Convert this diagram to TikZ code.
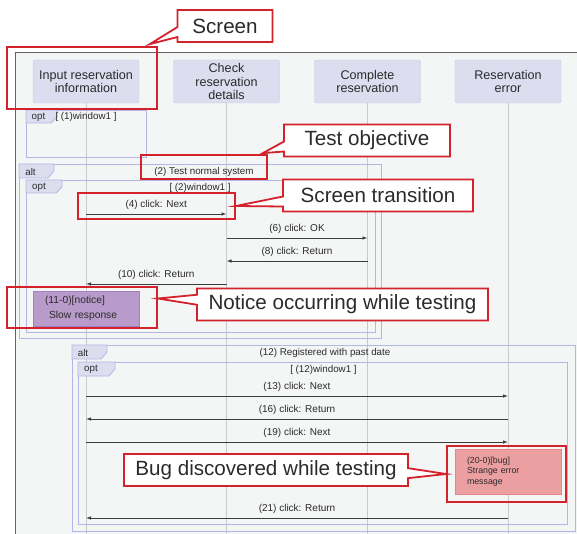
\documentclass[tikz,border=0pt]{standalone}
\usepackage{fontspec}
\setmainfont{Liberation Sans}
\usepackage{xcolor}
\usetikzlibrary{positioning, arrows.meta, fit, shapes.callouts}

\definecolor{bgfill}{HTML}{F4F5F5}
\definecolor{bordergray}{HTML}{626262}
\definecolor{headfill}{HTML}{DCDEF0}
\definecolor{headline}{HTML}{C6C9E8}
\definecolor{lifegray}{HTML}{C9CACF}
\definecolor{fragline}{HTML}{B3B7E3}
\definecolor{msggray}{HTML}{3C3C3C}
\definecolor{noticefill}{HTML}{B89BCB}
\definecolor{noticeline}{HTML}{9E82BD}
\definecolor{bugfill}{HTML}{EC9FA1}
\definecolor{bugline}{HTML}{E3868B}
\definecolor{callred}{HTML}{D3222C}
\definecolor{ink}{HTML}{2B2B2B}

\begin{document}
\begin{tikzpicture}[
  x=1pt, y=-1pt,
  font=\fontsize{10}{11}\selectfont, text=ink,
  headbox/.style={draw=headline, fill=headfill, rounded corners=2pt,
                  minimum width=106pt, minimum height=43pt, inner sep=0pt,
                  align=center, font=\fontsize{12.6}{13.6}\selectfont},
  lifeline/.style={draw=lifegray, line width=0.9pt},
  fragbox/.style={draw=fragline, line width=0.8pt},
  tab/.style={draw=fragline, fill=headfill, line width=0.8pt},
  tag/.style={font=\fontsize{9.8}{11}\selectfont, inner sep=0pt},
  msg/.style={draw=msggray, line width=0.8pt, -{Latex[length=5pt,width=3.5pt]}},
  lbl/.style={midway, above=3pt, inner sep=1pt},
  redmark/.style={draw=callred, line width=1.8pt, inner sep=0pt},
  remark/.style={rectangle callout, draw=callred, line width=1.8pt, fill=white,
                 font=\fontsize{20.6}{22}\selectfont, minimum height=32pt,
                 inner xsep=10pt, callout pointer width=10pt}
]
\useasboundingbox (0,0) rectangle (577,534);

% diagram area
\fill[bgfill] (15,53) rectangle (577,534);
\draw[bordergray, line width=1pt] (15,534) -- (15,53) -- (577,53);

% screens
\node[headbox] (inp) at (86,81.5) {Input reservation\\information};
\node[headbox] (chk) at (226.5,81.5) {Check\\reservation\\details};
\node[headbox] (cmp) at (367.5,81.5) {Complete\\reservation};
\node[headbox] (err) at (508,81.5) {Reservation\\error};
\foreach \s in {inp,chk,cmp,err}
  \draw[lifeline] (\s.south) -- (\s.south |- 0,534);

% opt (1)
\draw[fragbox] (26,110) rectangle (146,157);
\draw[tab] (26,110) -- (57,110) -- (57,117) -- (51,123) -- (26,123) -- cycle;
\node[tag] (opt1) at (38.5,117) {opt};
\node[tag] (grd1) at (86,117) {[ (1)window1 ]};

% alt (2)
\draw[fragbox] (19,164) rectangle (381,338);
\draw[tab] (19,164) -- (54,164) -- (54,171) -- (48,178) -- (19,178) -- cycle;
\node[tag] (alt2) at (30.5,171.5) {alt};
\node[tag] (grd2) at (204,171.5) {(2) Test normal system};

% opt (2)
\draw[fragbox] (26,180) rectangle (375,332);
\draw[tab] (26,180) -- (62,180) -- (62,187) -- (56,193) -- (26,193) -- cycle;
\node[tag] (opt2) at (39,187.5) {opt};
\node[tag] (grd3) at (200,187.5) {[ (2)window1 ]};

\draw[msg] (inp |- 0,214) -- (chk |- 0,214) node[lbl] {(4) click: Next};
\draw[msg] (chk |- 0,238) -- (cmp |- 0,238) node[lbl] {(6) click: OK};
\draw[msg] (cmp |- 0,261) -- (chk |- 0,261) node[lbl] {(8) click: Return};
\draw[msg] (chk |- 0,284) -- (inp |- 0,284) node[lbl] {(10) click: Return};

\node[fill=noticefill, draw=noticeline, minimum height=35pt, text width=82pt,
      inner xsep=12pt, align=left, font=\fontsize{10.3}{14.5}\selectfont]
  (notice) at (86,308.5) {(11-0)[notice]\\\hspace*{4pt}Slow response};

% alt (12)
\draw[fragbox] (72,345) rectangle (575,531);
\draw[tab] (72,345) -- (107,345) -- (107,352) -- (101,359) -- (72,359) -- cycle;
\node[tag] (alt12) at (83,352.5) {alt};
\node[tag] (grd12) at (325,352.5) {(12) Registered with past date};

% opt (12)
\draw[fragbox] (78,362) rectangle (567,524);
\draw[tab] (78,362) -- (115,362) -- (115,369) -- (109,376) -- (78,376) -- cycle;
\node[tag] (opt12) at (91,369.5) {opt};
\node[tag] (grd13) at (323.5,369.5) {[ (12)window1 ]};

\draw[msg] (inp |- 0,396) -- (err |- 0,396) node[lbl] {(13) click: Next};
\draw[msg] (err |- 0,419) -- (inp |- 0,419) node[lbl] {(16) click: Return};
\draw[msg] (inp |- 0,442) -- (err |- 0,442) node[lbl] {(19) click: Next};
\draw[msg] (err |- 0,518) -- (inp |- 0,518) node[lbl] {(21) click: Return};

\node[fill=bugfill, draw=bugline, minimum height=45pt, text width=82pt,
      inner xsep=12pt, align=left, font=\fontsize{8.8}{10.4}\selectfont]
  (bug) at (508,471.5) {(20-0)[bug]\\Strange error\\message};

% red annotations
\node[redmark, fit={(7,47) (157,109)}] (scrmark) {};
\node[redmark, fit={(141,155) (267,179)}] (objmark) {};
\node[redmark, fit={(78,193) (235,219)}] (nextmark) {};
\node[redmark, fit={(7,287) (157,328)}] (noticemark) {};
\node[redmark, fit={(447,446) (566,502)}] (bugmark) {};

\node[remark, minimum width=95pt,
      callout absolute pointer={([xshift=-8pt,yshift=2pt]scrmark.north east)}]
  (scrcall) at (225,26) {Screen};
\node[remark, minimum width=166pt,
      callout absolute pointer={([xshift=-5pt,yshift=1pt]objmark.north east)}]
  (objcall) at (367,140.5) {Test objective};
\node[remark, minimum width=190pt,
      callout absolute pointer={(nextmark.east)}]
  (transcall) at (378,195.5) {Screen transition};
\node[remark, minimum width=291pt,
      callout absolute pointer={([yshift=9pt]noticemark.east)}]
  (noticecall) at (342.5,304.5) {Notice occurring while testing};
\node[remark, minimum width=284pt,
      callout absolute pointer={(bugmark.west)}]
  (bugcall) at (266,470) {Bug discovered while testing};
\end{tikzpicture}
\end{document}
